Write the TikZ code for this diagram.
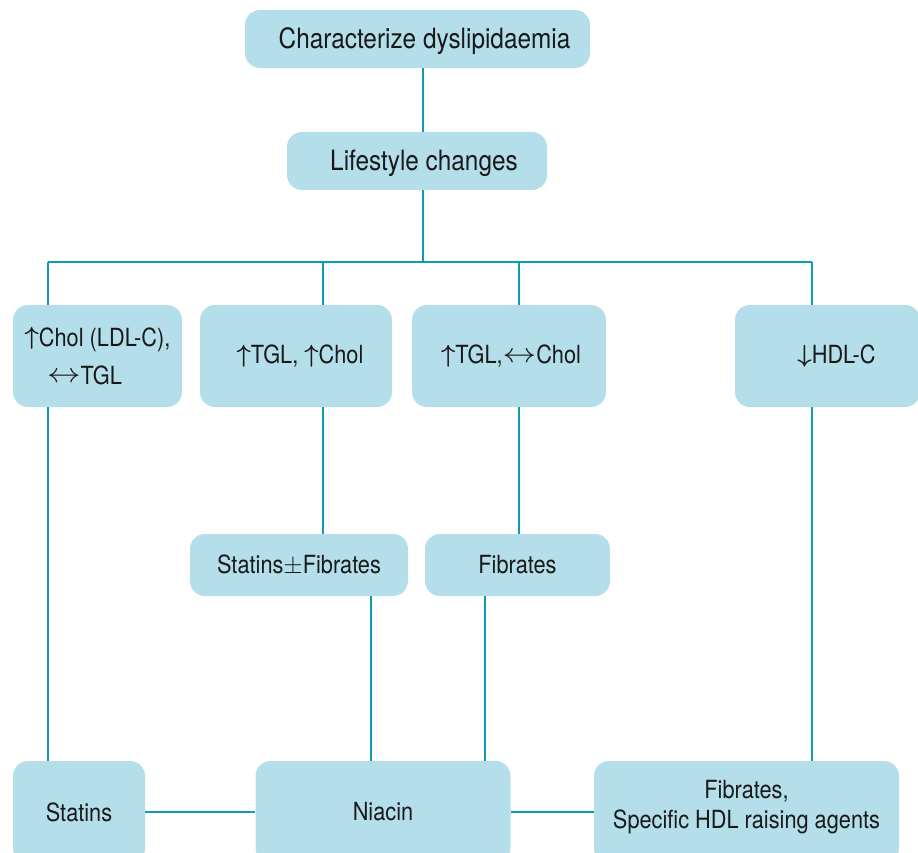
\documentclass[tikz,border=0pt]{standalone}
\usepackage{fontspec}
\setmainfont[FakeStretch=0.87]{TeX Gyre Heros}
\definecolor{boxfill}{RGB}{180,222,234}
\definecolor{linecol}{RGB}{14,155,184}
\newcommand{\upar}{\raisebox{0.05em}{\boldmath$\uparrow$}}
\newcommand{\dnar}{\raisebox{0.05em}{\boldmath$\downarrow$}}
\newcommand{\lrar}{\raisebox{0.05em}{\scalebox{1.35}[1.1]{$\leftrightarrow$}}}
\newcommand{\shiftup}[2]{\raisebox{#1}[\height][\depth]{#2}}
\begin{document}
\begin{tikzpicture}[x=1pt,y=-1pt,
  box/.style={fill=boxfill,draw=none,rounded corners=15pt,inner sep=0pt,align=center,text=black!90,font=\fontsize{25}{30}\selectfont},
  bigbox/.style={box,font=\fontsize{28}{32}\selectfont},
  conn/.style={draw=linecol,line width=2.5pt}]
\useasboundingbox (0,0) rectangle (918,853);
\clip (0,0) rectangle (918,853);
% nodes
\node[bigbox,minimum width=345pt,minimum height=58pt] (top) at (417.5,39) {\hspace*{14pt}\shiftup{-2pt}{Characterize dyslipidaemia}};
\node[bigbox,minimum width=260pt,minimum height=58pt] (life) at (417,161) {\hspace*{14pt}\shiftup{-2pt}{Lifestyle changes}};
\node[box,minimum width=169pt,minimum height=102pt] (b1) at (97.5,356) {\upar Chol (LDL-C),\\[8pt]\hspace*{-26pt}\lrar TGL};
\node[box,minimum width=192pt,minimum height=102pt] (b2) at (296,356) {\hspace*{8pt}\upar TGL, \upar Chol};
\node[box,minimum width=194pt,minimum height=102pt] (b3) at (509,356) {\hspace*{4pt}\upar TGL,\lrar Chol};
\node[box,minimum width=185pt,minimum height=102pt] (b4) at (827.5,356) {\hspace*{18pt}\dnar HDL-C};
\node[box,minimum width=218pt,minimum height=62pt] (sf) at (299,565) {Statins$\pm$Fibrates};
\node[box,minimum width=185pt,minimum height=62pt] (fib) at (517.5,565) {Fibrates};
\node[box,minimum width=132pt,minimum height=102pt] (st) at (79,812) {Statins};
\node[box,minimum width=255pt,minimum height=102pt] (ni) at (383,812) {Niacin};
\node[box,minimum width=305pt,minimum height=102pt] (fs) at (746.5,812) {\shiftup{5pt}{\begin{tabular}{@{}c@{}}Fibrates,\\Specific HDL raising agents\end{tabular}}};
% junction coordinates
\coordinate (spine) at (423,262);
\coordinate (j1) at (48,262);
\coordinate (j2) at (323,262);
\coordinate (j3) at (519,262);
\coordinate (j4) at (812,262);
\coordinate (x1) at (371,0);
\coordinate (x2) at (485,0);
% connectors
\draw[conn] (top.south -| spine) -- (life.north -| spine);
\draw[conn] (life.south -| spine) -- (spine);
\draw[conn] (j1) -- (j4);
\draw[conn] (j1) -- (j1 |- b1.north);
\draw[conn] (j2) -- (j2 |- b2.north);
\draw[conn] (j3) -- (j3 |- b3.north);
\draw[conn] (j4) -- (j4 |- b4.north);
\draw[conn] (j1 |- b1.south) -- (j1 |- st.north);
\draw[conn] (j2 |- b2.south) -- (j2 |- sf.north);
\draw[conn] (j3 |- b3.south) -- (j3 |- fib.north);
\draw[conn] (j4 |- b4.south) -- (j4 |- fs.north);
\draw[conn] (x1 |- sf.south) -- (x1 |- ni.north);
\draw[conn] (x2 |- fib.south) -- (x2 |- ni.north);
\draw[conn] (st.east) -- (ni.west);
\draw[conn] (ni.east) -- (fs.west);
\end{tikzpicture}
\end{document}
